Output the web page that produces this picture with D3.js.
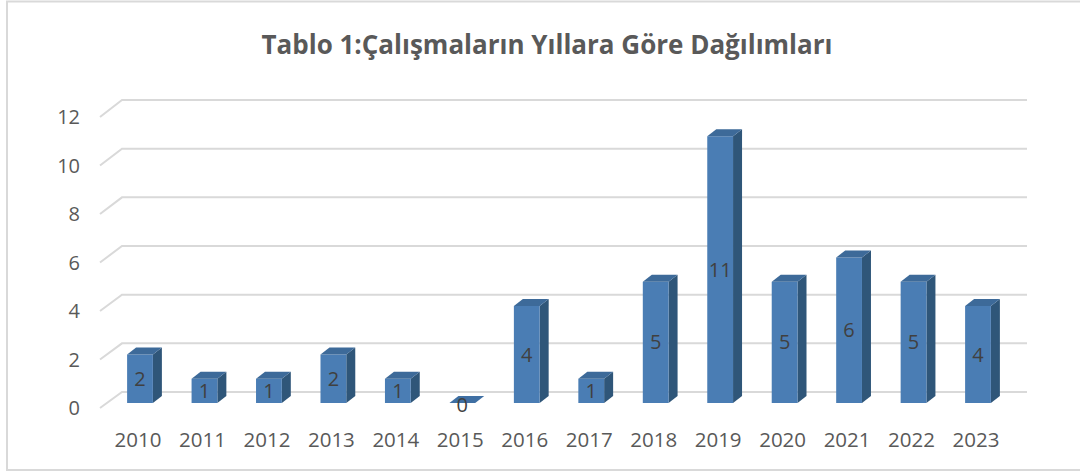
<!DOCTYPE html>
<html>
<head>
<meta charset="utf-8">
<script src="https://cdn.jsdelivr.net/npm/d3@7"></script>
<style>
  html, body { margin: 0; padding: 0; background: #fff; }
  svg { display: block; }
</style>
</head>
<body>
<svg id="chart" width="1080" height="474"></svg>
<script>
const years = ["2010","2011","2012","2013","2014","2015","2016","2017","2018","2019","2020","2021","2022","2023"];
const counts = [2,1,1,2,1,0,4,1,5,11,5,6,5,4];
const yTicks = [0,2,4,6,8,10,12];
const titleText = "Tablo 1:Çalışmaların Yıllara Göre Dağılımları";

const svg = d3.select("#chart");

// outer border
svg.append("rect").attr("x", 7).attr("y", 1.5).attr("width", 1080).attr("height", 468.5)
  .attr("fill", "#fff").attr("stroke", "#d9d9d9").attr("stroke-width", 2);

// title
svg.append("text").attr("x", 547).attr("y", 54).attr("text-anchor", "middle")
  .attr("font-family", "'Open Sans', sans-serif").attr("font-weight", "bold")
  .attr("font-size", 26).attr("fill", "#595959").text(titleText);

// scales
const yFront = d3.scaleLinear().domain([0, 12]).range([408, 117]);
const yBack = d3.scaleLinear().domain([0, 12]).range([392, 100]);
const yBar = d3.scaleLinear().domain([0, 12]).range([403, 112]);
const x = d3.scalePoint().domain(years).range([140, 978]);
const faceW = x.step() * 0.4;
const dx = 9, dy = 7;

// gridlines (3D wall floor-to-back)
const grid = svg.append("g");
yTicks.forEach(t => {
  grid.append("polyline")
    .attr("points", `100,${yFront(t)} 122,${yBack(t)} 1027,${yBack(t)}`)
    .attr("fill", "none").attr("stroke", "#d9d9d9").attr("stroke-width", 2);
});

// y-axis tick labels
svg.append("g").selectAll("text").data(yTicks).join("text")
  .attr("x", 80).attr("y", d => yFront(d)).attr("dy", "0.35em")
  .attr("text-anchor", "end")
  .attr("font-family", "'Open Sans', sans-serif").attr("font-size", 20)
  .attr("fill", "#595959").text(d => d);

// x-axis labels
svg.append("g").selectAll("text").data(years).join("text")
  .attr("x", d => x(d) - 2).attr("y", 447)
  .attr("text-anchor", "middle")
  .attr("font-family", "'Open Sans', sans-serif").attr("font-size", 20.5)
  .attr("fill", "#595959").text(d => d);

// bars
const data = years.map((y, i) => ({year: y, v: counts[i]}));
const bars = svg.append("g").selectAll("g").data(data).join("g");
bars.each(function(d) {
  const g = d3.select(this);
  const x0 = x(d.year) - faceW / 2, x1 = x(d.year) + faceW / 2;
  const top = yBar(d.v), bot = yBar(0);
  g.append("polygon")
    .attr("points", `${x1},${top} ${x1+dx},${top-dy} ${x1+dx},${bot-dy} ${x1},${bot}`)
    .attr("fill", "#2f5679");
  if (d.v > 0) {
    g.append("rect").attr("x", x0).attr("y", top).attr("width", faceW).attr("height", bot - top)
      .attr("fill", "#4a7db4");
  }
  g.append("polygon")
    .attr("points", `${x0},${top} ${x0+dx},${top-dy} ${x1+dx},${top-dy} ${x1},${top}`)
    .attr("fill", d.v > 0 ? "#3d6a99" : "#3f6fa3");
});

// data labels
svg.append("g").selectAll("text").data(data).join("text")
  .attr("x", d => x(d.year))
  .attr("y", d => d.v === 0 ? 405 : (yBar(d.v) + yBar(0)) / 2)
  .attr("dy", "0.35em").attr("text-anchor", "middle")
  .attr("font-family", "'Open Sans', sans-serif").attr("font-size", 20)
  .attr("fill", "#404040").text(d => d.v);
</script>
</body>
</html>
